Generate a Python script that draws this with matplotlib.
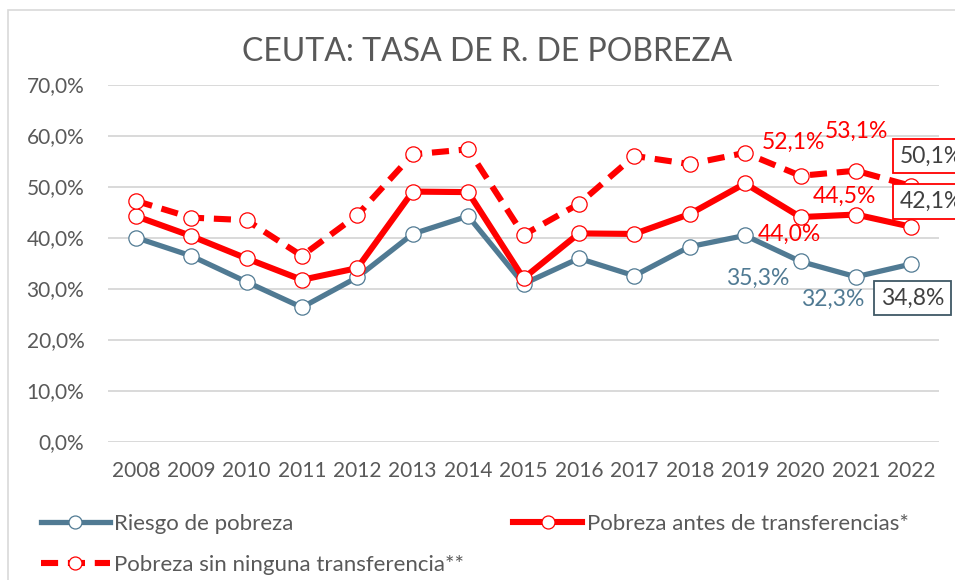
import matplotlib.pyplot as plt
from matplotlib.patches import Rectangle

plt.rcParams['font.family'] = ['Lato', 'DejaVu Sans']

years = ['2008', '2009', '2010', '2011', '2012', '2013', '2014', '2015',
         '2016', '2017', '2018', '2019', '2020', '2021', '2022']
riesgo = [40.0, 36.4, 31.3, 26.3, 32.2, 40.7, 44.2, 30.9,
          35.9, 32.5, 38.2, 40.4, 35.3, 32.3, 34.8]
antes = [44.2, 40.3, 35.9, 31.7, 34.0, 49.0, 48.9, 32.0,
         40.8, 40.7, 44.6, 50.6, 44.0, 44.5, 42.1]
sin_transf = [47.2, 43.9, 43.4, 36.4, 44.4, 56.3, 57.3, 40.5,
              46.6, 56.0, 54.4, 56.6, 52.1, 53.1, 50.1]

blue = '#507A93'
red = '#FF0000'
grey = '#595959'

W, H = 955, 580
fig = plt.figure(figsize=(W / 100, H / 100), dpi=100)
# chart frame
fig.patches.append(Rectangle((8 / W, -0.05), 1.1, 1 - 10 / H + 0.05,
                             transform=fig.transFigure, fill=False,
                             edgecolor='#D9D9D9', lw=1.2))

ax = fig.add_axes([108 / W, 1 - 441.5 / H, (939 - 108) / W, (441.5 - 84.5) / H])
x = range(len(years))

mk = dict(marker='o', markersize=11, markerfacecolor='white', markeredgewidth=0.9)
l1, = ax.plot(x, riesgo, color=blue, lw=3.8, markeredgecolor=blue,
              label='Riesgo de pobreza', zorder=3, **mk)
l2, = ax.plot(x, antes, color=red, lw=4.4, markeredgecolor=red,
              label='Pobreza antes de transferencias*', zorder=4, **mk)
l3, = ax.plot(x, sin_transf, color=red, lw=4.4, markeredgecolor=red,
              dashes=(2.8, 1.6), label='Pobreza sin ninguna transferencia**',
              zorder=5, **mk)

ax.set_xlim(-0.5, len(years) - 0.5)
ax.set_ylim(0, 70)
ax.set_yticks(range(0, 71, 10))
ax.set_yticklabels([f'{v},0%' for v in range(0, 71, 10)])
ax.set_xticks(list(x))
ax.set_xticklabels(years)
ax.tick_params(length=0, labelsize=15, labelcolor=grey)
ax.tick_params(axis='x', pad=14)
ax.tick_params(axis='y', pad=17)
ax.grid(axis='y', color='#D9D9D9', lw=1.4)
ax.set_axisbelow(True)
for s in ax.spines.values():
    s.set_visible(False)

fig.text(487 / W, 1 - 52 / H, 'CEUTA: TASA DE R. DE POBREZA', ha='center',
         va='center', fontsize=23, color=grey)


def fmt(v):
    return f'{v:.1f}%'.replace('.', ',')


def label(i, series, dx, dy, color, box=None):
    bbox = None
    if box:
        bbox = dict(boxstyle='square,pad=0.3', facecolor='white', edgecolor=box, lw=1.3)
    ax.annotate(fmt(series[i]), (i, series[i]), xytext=(dx, dy),
                textcoords='offset pixels', ha='center', va='center',
                fontsize=16.5, color=color, bbox=bbox, annotation_clip=False,
                zorder=6)


label(12, riesgo, -43, -17, blue)
label(13, riesgo, -23, -23, blue)
label(14, riesgo, 1, -34, '#404040', box='#3F5866')
label(12, antes, -11, -17, red)
label(13, antes, -11, 18, red)
label(14, antes, 20, 25, '#404040', box=red)
label(12, sin_transf, -7, 33, red)
label(13, sin_transf, 1, 39, red)
label(14, sin_transf, 20, 30, '#404040', box=red)

fig.legend([l1, l3, l2], [l1.get_label(), l3.get_label(), l2.get_label()],
           ncol=2, loc='upper left', bbox_to_anchor=(21 / W, 1 - 494 / H),
           frameon=False, fontsize=16, labelcolor=grey, handlelength=3.1,
           handletextpad=0.2, columnspacing=2.2, labelspacing=0.95,
           markerscale=0.85)

fig.savefig('out.png', dpi=100)
